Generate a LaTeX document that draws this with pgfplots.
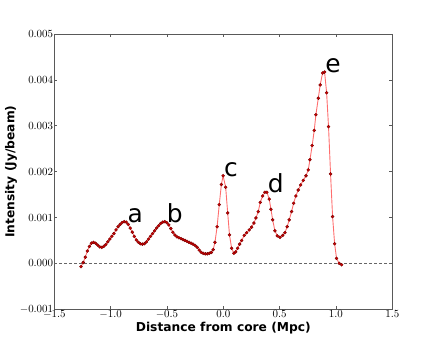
\documentclass[border=0pt]{standalone}
\usepackage{pgfplots}
\pgfplotsset{compat=1.18}
\usepackage{fontspec}
\setmainfont{DejaVu Sans}
\definecolor{lred}{RGB}{255,110,110}
\definecolor{mred}{RGB}{205,0,0}
\definecolor{dred}{RGB}{120,0,0}
\begin{document}
\begin{tikzpicture}
\begin{axis}[
  scale only axis, width=338bp, height=275.3bp,
  xmin=-1.5, xmax=1.5, ymin=-0.001, ymax=0.005,
  xtick={-1.5,-1,-0.5,0,0.5,1,1.5},
  ytick={-0.001,0,0.001,0.002,0.003,0.004,0.005},
  scaled y ticks=false, scaled x ticks=false,
  xticklabel style={/pgf/number format/fixed,/pgf/number format/fixed zerofill,/pgf/number format/precision=1, inner sep=1pt},
  yticklabel style={/pgf/number format/fixed,/pgf/number format/fixed zerofill,/pgf/number format/precision=3, inner sep=1pt},
  tick align=inside, tick pos=both, major tick length=3bp,
  tick label style={font=\fontsize{11}{13}\selectfont},
  axis line style={black!65, line width=0.6pt},
  every tick/.style={black!65, line width=0.6pt},
  xlabel={Distance from core (Mpc)},
  ylabel={Intensity (Jy/beam)},
  label style={font=\fontsize{12.3}{15}\selectfont\bfseries, inner sep=0pt},
  xlabel style={at={(axis description cs:0.5,-0.047)}, anchor=north},
  ylabel style={at={(axis description cs:-0.146,0.5)}, anchor=north},
]
\coordinate (bl) at (rel axis cs:0,0);
\coordinate (tr) at (rel axis cs:1,1);
\addplot[black!60, dash pattern=on 3bp off 2bp, line width=0.5pt] coordinates {(-1.5,0) (1.5,0)};
\addplot[lred, line width=0.9pt, mark=*, mark size=1.5bp, mark options={fill=mred, draw=dred, line width=0.4pt}] coordinates {
(-1.263,-0.00007) (-1.243,0.00002) (-1.225,0.000135) (-1.207,0.00027) (-1.188,0.00037)
(-1.170,0.00044) (-1.152,0.00046) (-1.133,0.00044) (-1.115,0.00040) (-1.097,0.00036)
(-1.079,0.00035) (-1.061,0.00037) (-1.043,0.00041) (-1.025,0.00047) (-1.007,0.00053)
(-0.989,0.00059) (-0.971,0.00065) (-0.952,0.00073) (-0.934,0.00080) (-0.916,0.00085)
(-0.898,0.00089) (-0.880,0.00091) (-0.862,0.00090) (-0.844,0.00085) (-0.826,0.00077)
(-0.808,0.00068) (-0.790,0.00059) (-0.772,0.00051) (-0.754,0.00046) (-0.736,0.00043)
(-0.718,0.00042) (-0.700,0.00043) (-0.682,0.00047) (-0.664,0.00053) (-0.646,0.00059)
(-0.628,0.00065) (-0.610,0.00071) (-0.592,0.00077) (-0.574,0.00082) (-0.556,0.00087)
(-0.538,0.00090) (-0.520,0.00091) (-0.502,0.00089) (-0.484,0.00084) (-0.466,0.00076)
(-0.448,0.00068) (-0.430,0.00062) (-0.412,0.00058) (-0.394,0.00056) (-0.376,0.00054)
(-0.358,0.00052) (-0.340,0.00050) (-0.322,0.00048) (-0.304,0.00046) (-0.286,0.00044)
(-0.268,0.00042) (-0.250,0.00039) (-0.232,0.00035) (-0.214,0.00029) (-0.196,0.00024)
(-0.178,0.00022) (-0.160,0.00021) (-0.142,0.00021) (-0.124,0.00022) (-0.106,0.00024)
(-0.090,0.00030) (-0.074,0.00046) (-0.055,0.00080) (-0.036,0.00128) (-0.017,0.00172)
(-0.002,0.00191) (0.021,0.00166) (0.039,0.00110) (0.055,0.00062) (0.074,0.00033)
(0.094,0.00022) (0.110,0.00025) (0.127,0.00033) (0.145,0.00042) (0.163,0.00050)
(0.186,0.00061) (0.207,0.00067) (0.230,0.00073) (0.251,0.00079) (0.272,0.00088)
(0.290,0.00099) (0.310,0.00113) (0.328,0.00133) (0.349,0.00147) (0.369,0.00155)
(0.387,0.00155) (0.408,0.00140) (0.423,0.00118) (0.438,0.00095) (0.458,0.00071)
(0.479,0.00060) (0.503,0.00057) (0.527,0.00061) (0.547,0.00067) (0.567,0.00080)
(0.585,0.00095) (0.606,0.00113) (0.624,0.00131) (0.644,0.00147) (0.665,0.00160)
(0.686,0.00171) (0.710,0.00181) (0.734,0.00191) (0.754,0.00204) (0.769,0.00226)
(0.789,0.00257) (0.807,0.00290) (0.822,0.00324) (0.843,0.00360) (0.860,0.00389)
(0.881,0.00415) (0.899,0.00417) (0.917,0.00372) (0.934,0.00298) (0.952,0.00195)
(0.970,0.00102) (0.988,0.00043) (1.005,0.00011) (1.029,0.00000) (1.050,-0.00003)
};
\node[anchor=base west, inner sep=0pt, font=\fontsize{25}{30}\selectfont] at (axis cs:-0.85,0.00089) {a};
\node[anchor=base west, inner sep=0pt, font=\fontsize{25}{30}\selectfont] at (axis cs:-0.503,0.00089) {b};
\node[anchor=base west, inner sep=0pt, font=\fontsize{25}{30}\selectfont] at (axis cs:0.006,0.0019) {c};
\node[anchor=base west, inner sep=0pt, font=\fontsize{25}{30}\selectfont] at (axis cs:0.393,0.00155) {d};
\node[anchor=base west, inner sep=0pt, font=\fontsize{25}{30}\selectfont] at (axis cs:0.905,0.00415) {e};
\end{axis}
\pgfresetboundingbox
\path[use as bounding box] ([xshift=-54.3bp,yshift=-34.7bp]bl) rectangle ([xshift=43.7bp,yshift=34bp]tr);
\end{tikzpicture}
\end{document}
